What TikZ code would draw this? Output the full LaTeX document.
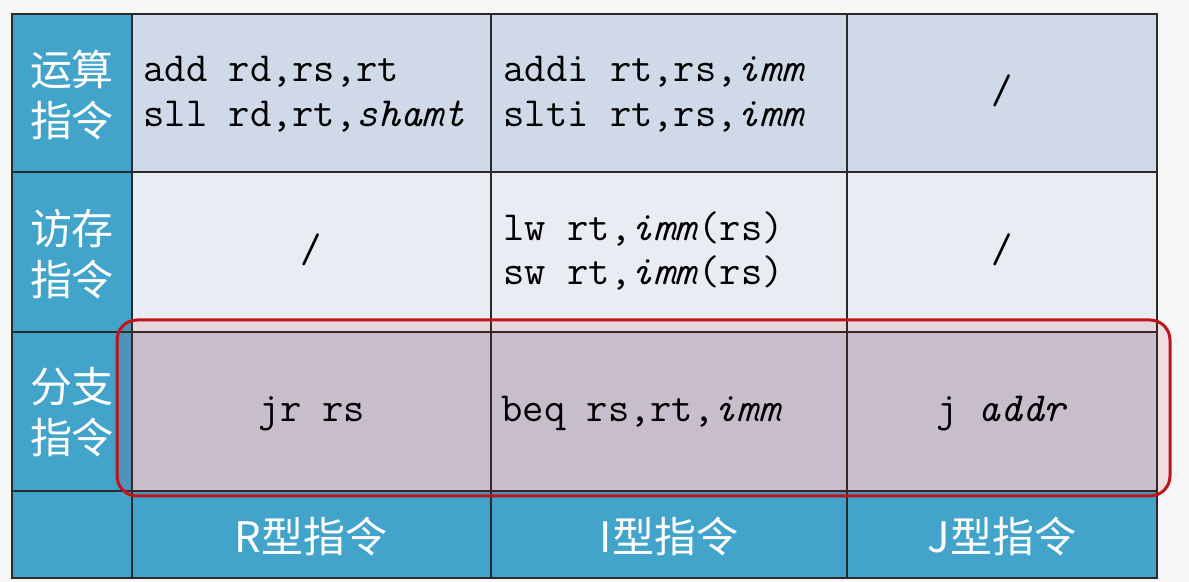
\documentclass[tikz,border=0pt]{standalone}
\usepackage{fontspec}
\usepackage{xcolor}
\usepackage{tikz}
\newfontfamily\cjk{Noto Sans CJK SC}
\definecolor{page}{HTML}{F6F6F6}
\definecolor{head}{HTML}{42A3CB}
\definecolor{rowA}{HTML}{D0D9E7}
\definecolor{rowB}{HTML}{EAECF4}
\definecolor{rowC}{HTML}{CAD1DF}
\definecolor{rule}{HTML}{2A2A2A}
\definecolor{hilite}{HTML}{C0141C}
\tikzset{
  cellline/.style={draw=rule, line width=0.55pt},
  code/.style={font=\ttfamily\fontsize{20.7}{24}\selectfont, text=black, inner sep=0pt},
  hd/.style={font=\cjk\fontsize{21}{25.5}\selectfont, text=white, align=center, inner sep=0pt},
  hibox/.style={draw=hilite, line width=1.5pt, rounded corners=10pt, fill=hilite, fill opacity=0.1}
}
\begin{document}
\begin{tikzpicture}[x=0.5pt,y=-0.5pt]
  \fill[page] (0,0) rectangle (1189,582);
  \useasboundingbox (0,0) rectangle (1189,582);

  % cell fills
  \fill[head] (12,14) rectangle (132,578);
  \fill[head] (132,491) rectangle (1157,578);
  \fill[rowA] (132,14) rectangle (1157,172);
  \fill[rowB] (132,172) rectangle (1157,332);
  \fill[rowC] (132,332) rectangle (1157,491);

  % rules
  \foreach \y in {172,332,491} \draw[cellline] (12,\y) -- (1157,\y);
  \foreach \x in {132,491,847} \draw[cellline] (\x,14) -- (\x,578);
  \draw[cellline] (12,14) rectangle (1157,578);

  % highlight of the branch row
  \draw[hibox] (117,320) rectangle (1170,496);

  % row and column heads
  \node[hd] (arith) at (72,95) {运算\\指令};
  \node[hd] (mem) at (72,254) {访存\\指令};
  \node[hd] (branch) at (72,412) {分支\\指令};
  \node[hd] (rtype) at (311,537) {R型指令};
  \node[hd] (itype) at (669,537) {I型指令};
  \node[hd] (jtype) at (1002,537) {J型指令};

  % instructions
  \node[code,anchor=base west] (add) at (143,82) {add rd,rs,rt};
  \node[code,anchor=base west] (sll) at (143,127) {sll rd,rt,\textit{shamt}};
  \node[code,anchor=base west] (addi) at (503,82) {addi rt,rs,\textit{imm}};
  \node[code,anchor=base west] (slti) at (503,127) {slti rt,rs,\textit{imm}};
  \node[code,anchor=base] (jarith) at (1002,104) {/};
  \node[code,anchor=base] (rmem) at (311,263) {/};
  \node[code,anchor=base west] (lw) at (503,241) {lw rt,\textit{imm}(rs)};
  \node[code,anchor=base west] (sw) at (503,285) {sw rt,\textit{imm}(rs)};
  \node[code,anchor=base] (jmem) at (1002,263) {/};
  \node[code,anchor=base] (jr) at (312,422) {jr rs};
  \node[code,anchor=base west] (beq) at (501,422) {beq rs,rt,\textit{imm}};
  \node[code,anchor=base] (j) at (1002,422) {j \textit{addr}};
\end{tikzpicture}
\end{document}
